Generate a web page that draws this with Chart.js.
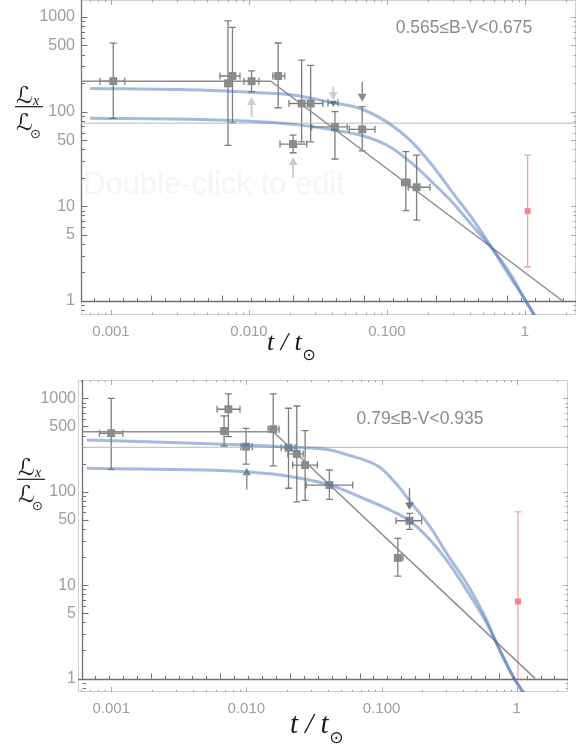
<!DOCTYPE html>
<html>
<head>
<meta charset="utf-8">
<script src="https://cdn.jsdelivr.net/npm/chart.js@4.4.1/dist/chart.umd.min.js"></script>
<style>
  body { margin: 0; background: #fff; width: 577px; height: 749px; overflow: hidden; position: relative; }
  canvas { position: absolute; left: 0; }
  #top { top: 0; }
  #bottom { top: 370px; }
</style>
</head>
<body>
<canvas id="top" width="577" height="370"></canvas>
<canvas id="bottom" width="577" height="379"></canvas>
<script>
// tick labels (both panels)
const xLabelVals = [0.001, 0.01, 0.1, 1];
const xLabelText = ['0.001', '0.010', '0.100', '1'];
const yLabelVals = [1, 5, 10, 50, 100, 500, 1000];
const yLabelText = ['1', '5', '10', '50', '100', '500', '1000'];

// ---- upper panel: 0.565 <= B-V < 0.675 ----
const topRange = '0.565≤B-V<0.675';
const topT   = [0.00104, 0.00705, 0.0076, 0.01045, 0.0163, 0.0209, 0.0241, 0.028, 0.042, 0.0662, 0.137, 0.164];
const topL   = [210, 199, 238, 210, 238, 45.5, 122, 122, 69, 65, 17.9, 15.9];
const topLlo = [85, 44, 76, 162, 110, 36.8, 48, 48, 31.6, 38.6, 9.0, 7.15];
const topLhi = [530, 912, 778, 270, 531, 56.5, 351, 308, 100, 113, 37.8, 34.8];
const topTlo = [0.000832, 0.00705, 0.00616, 0.0092, 0.0149, 0.0168, 0.0195, 0.0234, 0.0285, 0.0533, 0.128, 0.1426];
const topThi = [0.00126, 0.00705, 0.00861, 0.0118, 0.0182, 0.0262, 0.0286, 0.0344, 0.0515, 0.0819, 0.147, 0.205];
// upper limit marker
const topLimT = [0.0408], topLimL = [124], topLimTlo = [0.0374], topLimThi = [0.0442];
// limit arrows (t, from L, to L)
const topArrowT    = [0.01045, 0.0209, 0.0408, 0.0662];
const topArrowFrom = [87.7, 19.9, 183, 207];
const topArrowTo   = [142.6, 33.2, 132.5, 127];
// the Sun
const topSunT = [1.046], topSunL = [8.9], topSunLlo = [2.3], topSunLhi = [34.8];
// fits
const topBrokenT = [0.000607, 0.0144, 1.88];
const topBrokenL = [210, 210, 1];
const topFlatT = [0.000607, 2.4];
const topFlatL = [75.6, 75.6];
const topBlueT   = [0.000705, 0.00442, 0.012, 0.021, 0.0408, 0.0637, 0.0995, 0.147, 0.217, 0.302, 0.422, 0.589, 0.778, 0.972, 1.149, 1.29];
const topBlueHiL = [176, 169, 158, 150, 124, 108, 78, 50, 26.2, 13.7, 7.2, 3.46, 1.81, 1.11, 0.74, 0.56];
const topBlueLoL = [85, 82.6, 78.2, 73.4, 64, 56.6, 44.4, 29.6, 17.5, 10.8, 6.1, 3.46, 1.96, 1.11, 0.74, 0.56];

// ---- lower panel: 0.79 <= B-V < 0.935 ----
const botRange = '0.79≤B-V<0.935';
const botT   = [0.001, 0.00684, 0.00736, 0.00995, 0.0158, 0.0205, 0.0236, 0.0272, 0.0411, 0.161, 0.132];
const botL   = [423, 447, 764, 304, 467, 296, 254, 193, 118, 48.9, 19.6];
const botLlo = [174, 309, 389, 198, 189, 109, 78, 81, 83, 39.5, 12.5];
const botLhi = [1000, 648, 1114, 478, 1114, 783, 828, 451, 171, 58.7, 31.7];
const botTlo = [0.000818, 0.00684, 0.00607, 0.0091, 0.0145, 0.0181, 0.0203, 0.022, 0.0277, 0.128, 0.126];
const botThi = [0.00122, 0.00684, 0.00897, 0.01107, 0.01745, 0.0229, 0.0263, 0.0335, 0.0612, 0.198, 0.144];
// lower limit (up triangle) and upper limit (down triangle) with stems
const botLowLimT = [0.01007], botLowLimL = [160], botLowLimStem = [106];
const botUpLimT  = [0.161],   botUpLimL  = [72],  botUpLimStem  = [109];
const botSunT = [1.02], botSunL = [6.7], botSunLlo = [1], botSunLhi = [61];
const botBrokenT = [0.000607, 0.0158, 1.37];
const botBrokenL = [440, 440, 1];
const botFlatT = [0.000607, 2.4];
const botFlatL = [299, 299];
const botBlueHiT = [0.00066, 0.01, 0.0178, 0.0416, 0.0553, 0.0975, 0.129, 0.167, 0.229, 0.303, 0.427, 0.6, 0.711, 0.944, 1.15];
const botBlueHiL = [358, 316, 304, 280, 250, 182, 121, 75, 42, 21.9, 10.4, 4.2, 2.37, 1.04, 0.69];
const botBlueLoT = [0.00066, 0.01, 0.0178, 0.0416, 0.0733, 0.1156, 0.161, 0.229, 0.303, 0.427, 0.6, 0.711, 0.944, 1.12];
const botBlueLoL = [178, 164, 151, 118, 85, 63.7, 48.9, 30.4, 18.5, 8.8, 3.9, 2.37, 1.04, 0.69];

const FONT = "'Liberation Sans', Arial, sans-serif";
const SERIF = "'Liberation Serif', 'DejaVu Serif', serif";
const SCRIPT = "'DejaVu Sans', 'DejaVu Serif', 'Noto Sans', serif";
const BLUE = 'rgba(70, 110, 182, 0.48)';
const GRAY = '#8b8b8b';
const LIGHT_ARROW = '#cdcdcd';
const DARK_ARROW = '#8a8a8a';

function near(list, v) { return list.findIndex(u => Math.abs(u - v) / u < 1e-6); }
function pts(T, L) { return T.map((t, i) => ({ x: t, y: L[i] })); }
function errPts(T, L, Tlo, Thi, Llo, Lhi) {
  return T.map((t, i) => ({ x: t, y: L[i], xMin: Tlo[i], xMax: Thi[i], yMin: Llo[i], yMax: Lhi[i] }));
}
function logTicks(lo, hi) {
  const out = [];
  for (let e = -4; e <= 3; e++) {
    for (let m = 1; m <= 9; m++) {
      const v = m * Math.pow(10, e);
      if (v >= lo && v <= hi) out.push(v);
    }
  }
  return out;
}

// frame, ticks and the two Mathematica-style axes
const framePlugin = {
  id: 'frame',
  beforeDatasetsDraw(chart, args, o) {
    const { ctx, chartArea: a, scales: { x, y } } = chart;
    ctx.save();
    ctx.lineWidth = 1;
    ctx.strokeStyle = '#d0d0d0';
    ctx.strokeRect(a.left + 0.5, a.top + 0.5, a.right - a.left - 1, a.bottom - a.top - 1);
    ctx.strokeStyle = '#aaaaaa';
    ctx.beginPath();
    x.ticks.forEach(t => {
      const px = Math.round(x.getPixelForValue(t.value)) + 0.5;
      const len = near(xLabelVals, t.value) >= 0 ? 5 : 2.5;
      ctx.moveTo(px, a.bottom); ctx.lineTo(px, a.bottom - len);
      ctx.moveTo(px, a.top); ctx.lineTo(px, a.top + len);
    });
    y.ticks.forEach(t => {
      const py = Math.round(y.getPixelForValue(t.value)) + 0.5;
      const len = near(yLabelVals, t.value) >= 0 ? 5 : 2.5;
      ctx.moveTo(a.right, py); ctx.lineTo(a.right - len, py);
    });
    ctx.stroke();

    const ax = Math.round(x.getPixelForValue(o.axisT)) + 0.5;
    const ay = Math.round(y.getPixelForValue(1)) + 0.5;
    ctx.strokeStyle = '#707070';
    ctx.lineWidth = 1.3;
    ctx.beginPath();
    ctx.moveTo(a.left, ay); ctx.lineTo(a.right, ay);
    ctx.moveTo(ax, a.top); ctx.lineTo(ax, ay);
    ctx.stroke();
    ctx.lineWidth = 1;
    ctx.beginPath();
    y.ticks.forEach(t => {
      const py = Math.round(y.getPixelForValue(t.value)) + 0.5;
      const len = near(yLabelVals, t.value) >= 0 ? 6 : 3.5;
      ctx.moveTo(ax, py); ctx.lineTo(ax + len, py);
    });
    for (let k = -40; k <= 8; k++) {
      const px = x.getPixelForValue(Math.pow(10, o.axisTickStart + o.axisTickStep * k));
      if (px <= ax + 1 || px > a.right) continue;
      const len = k % 5 === 0 ? 6 : 3.5;
      const rx = Math.round(px) + 0.5;
      ctx.moveTo(rx, ay); ctx.lineTo(rx, ay - len);
    }
    ctx.stroke();
    ctx.restore();
  }
};

// error bars with caps
const errorBarPlugin = {
  id: 'errorBars',
  beforeDatasetsDraw(chart) {
    const { ctx, scales: { x, y } } = chart;
    chart.data.datasets.forEach(ds => {
      if (!ds.errorBars) return;
      ctx.save();
      ctx.strokeStyle = ds.errorColor;
      ctx.lineWidth = 1.3;
      ctx.beginPath();
      ds.data.forEach(p => {
        const px = x.getPixelForValue(p.x), py = y.getPixelForValue(p.y);
        if (p.yMin !== p.yMax) {
          const y1 = y.getPixelForValue(p.yMin), y2 = y.getPixelForValue(p.yMax);
          ctx.moveTo(px, y1); ctx.lineTo(px, y2);
          ctx.moveTo(px - 3.5, y1); ctx.lineTo(px + 3.5, y1);
          ctx.moveTo(px - 3.5, y2); ctx.lineTo(px + 3.5, y2);
        }
        if (p.xMin !== p.xMax) {
          const x1 = x.getPixelForValue(p.xMin), x2 = x.getPixelForValue(p.xMax);
          ctx.moveTo(x1, py); ctx.lineTo(x2, py);
          ctx.moveTo(x1, py - 3.5); ctx.lineTo(x1, py + 3.5);
          ctx.moveTo(x2, py - 3.5); ctx.lineTo(x2, py + 3.5);
        }
      });
      ctx.stroke();
      ctx.restore();
    });
  }
};

// limit arrows and stems
const arrowPlugin = {
  id: 'arrows',
  beforeDatasetsDraw(chart, args, o) {
    const { ctx, scales: { x, y } } = chart;
    (o.list || []).forEach(a => {
      const px = x.getPixelForValue(a.t);
      const y1 = y.getPixelForValue(a.from), y2 = y.getPixelForValue(a.to);
      ctx.save();
      ctx.strokeStyle = a.color; ctx.fillStyle = a.color;
      ctx.lineWidth = a.width || 1.6;
      ctx.beginPath();
      const dir = y2 < y1 ? 1 : -1;
      ctx.moveTo(px, y1); ctx.lineTo(px, a.head ? y2 + dir * 6 : y2);
      ctx.stroke();
      if (a.head) {
        ctx.beginPath();
        ctx.moveTo(px, y2);
        ctx.lineTo(px - 4.5, y2 + dir * 8);
        ctx.lineTo(px + 4.5, y2 + dir * 8);
        ctx.closePath();
        ctx.fill();
      }
      ctx.restore();
    });
  }
};

// titles, annotation, watermark
const textPlugin = {
  id: 'texts',
  beforeDatasetsDraw(chart, args, o) {
    if (!o.watermark) return;
    const ctx = chart.ctx;
    ctx.save();
    ctx.font = `31px ${FONT}`;
    ctx.fillStyle = '#f5f5f5';
    ctx.textBaseline = 'middle';
    ctx.fillText(o.watermark.text, o.watermark.x, o.watermark.y);
    ctx.restore();
  },
  afterDraw(chart, args, o) {
    const ctx = chart.ctx;
    ctx.save();
    // annotation
    ctx.font = `17.5px ${FONT}`;
    ctx.fillStyle = '#8a8a8a';
    ctx.textAlign = 'center';
    ctx.textBaseline = 'middle';
    ctx.fillText(o.note.text, o.note.x, o.note.y);
    // y title: Lx / Lsun
    const { cx, cy } = o.yTitle;
    ctx.fillStyle = '#1a1a1a';
    ctx.textAlign = 'left';
    ctx.textBaseline = 'alphabetic';
    ctx.font = `italic 23px ${SCRIPT}`;
    ctx.fillText('ℒ', cx - 13, cy - 4);
    ctx.fillText('ℒ', cx - 13, cy + 23);
    ctx.font = `italic 14px ${SERIF}`;
    ctx.fillText('x', cx + 4, cy - 2);
    ctx.font = `13px ${SCRIPT}`;
    ctx.fillText('⊙', cx + 1, cy + 31);
    ctx.fillRect(cx - 14, cy - 0.6, 28, 1.2);
    // x title: t / t_sun
    const xt = o.xTitle;
    ctx.font = `italic ${xt.size}px ${SERIF}`;
    ctx.fillText('t / t', xt.x, xt.base);
    const w = ctx.measureText('t / t').width;
    ctx.font = `${Math.round(xt.size * 0.6)}px ${SCRIPT}`;
    ctx.fillText('⊙', xt.x + w + 0.5, xt.base + 10);
    ctx.restore();
  }
};

function drawPanel(id, p) {
  const xTicks = logTicks(p.xMin, p.xMax);
  const yTicks = logTicks(p.yMin, p.yMax);
  const datasets = [
    { data: pts(p.blueHiT, p.blueHiL), showLine: true, borderColor: BLUE, borderWidth: 3, pointRadius: 0, cubicInterpolationMode: 'monotone', order: 0 },
    { data: pts(p.blueLoT, p.blueLoL), showLine: true, borderColor: BLUE, borderWidth: 3, pointRadius: 0, cubicInterpolationMode: 'monotone', order: 0 },
    { data: errPts(p.sunT, p.sunL, p.sunT, p.sunT, p.sunLlo, p.sunLhi), pointStyle: 'rect', pointRadius: 4.3,
      backgroundColor: '#f4868f', borderWidth: 0, errorBars: true, errorColor: '#f7a2a9', order: 1 },
    { data: errPts(p.T, p.L, p.Tlo, p.Thi, p.Llo, p.Lhi), pointStyle: 'rect', pointRadius: 5.6,
      backgroundColor: GRAY, borderWidth: 0, errorBars: true, errorColor: '#7e7e7e', order: 2 },
    { data: pts(p.brokenT, p.brokenL), showLine: true, borderColor: '#8e8e8e', borderWidth: 1.5, pointRadius: 0, order: 5 },
    { data: pts(p.flatT, p.flatL), showLine: true, borderColor: '#b8b8b8', borderWidth: 1, pointRadius: 0, order: 6 }
  ].concat(p.extra);

  new Chart(document.getElementById(id), {
    type: 'scatter',
    data: { datasets },
    options: {
      responsive: false,
      animation: false,
      layout: { padding: p.padding, autoPadding: false },
      plugins: {
        legend: { display: false },
        tooltip: { enabled: false },
        frame: { axisT: 0.000607, axisTickStart: -0.133, axisTickStep: 0.103 },
        arrows: { list: p.arrows },
        texts: { note: p.note, yTitle: p.yTitle, xTitle: p.xTitle, watermark: p.watermark }
      },
      scales: {
        x: {
          type: 'logarithmic', min: p.xMin, max: p.xMax, bounds: 'data',
          afterBuildTicks: s => { s.ticks = xTicks.map(v => ({ value: v })); },
          afterFit: s => { s.height = p.xAxisH; s.paddingLeft = 0; s.paddingRight = 0; },
          grid: { display: false, drawTicks: false },
          border: { display: false },
          ticks: {
            autoSkip: false, maxRotation: 0, minRotation: 0, padding: 8,
            color: '#9d9d9d', font: { family: FONT, size: 15 },
            callback: v => { const i = near(xLabelVals, v); return i >= 0 ? xLabelText[i] : ''; }
          }
        },
        y: {
          type: 'logarithmic', min: p.yMin, max: p.yMax, bounds: 'data',
          afterBuildTicks: s => { s.ticks = yTicks.map(v => ({ value: v })); },
          afterFit: s => { s.width = p.yAxisW; s.paddingTop = 0; s.paddingBottom = 0; },
          grid: { display: false, drawTicks: false },
          border: { display: false },
          ticks: {
            autoSkip: false, padding: p.yPad,
            color: '#9d9d9d', font: { family: FONT, size: 16 },
            callback: v => { const i = near(yLabelVals, v); return i >= 0 ? yLabelText[i] : ''; }
          }
        }
      }
    },
    plugins: [framePlugin, textPlugin, errorBarPlugin, arrowPlugin]
  });
}

drawPanel('top', {
  xMin: 0.000607, xMax: 2.344, yMin: 0.711, yMax: 1512,
  padding: { top: 0, right: 1, left: 0, bottom: 0 }, xAxisH: 55, yAxisW: 81, yPad: 6,
  T: topT, L: topL, Llo: topLlo, Lhi: topLhi, Tlo: topTlo, Thi: topThi,
  sunT: topSunT, sunL: topSunL, sunLlo: topSunLlo, sunLhi: topSunLhi,
  brokenT: topBrokenT, brokenL: topBrokenL, flatT: topFlatT, flatL: topFlatL,
  blueHiT: topBlueT, blueHiL: topBlueHiL, blueLoT: topBlueT, blueLoL: topBlueLoL,
  extra: [
    { data: errPts(topLimT, topLimL, topLimTlo, topLimThi, topLimL, topLimL), pointStyle: 'triangle', pointRotation: 180,
      pointRadius: 4, backgroundColor: '#707070', borderWidth: 0, errorBars: true, errorColor: '#7e7e7e', order: 2 }
  ],
  arrows: topArrowT.map((t, i) => ({ t, from: topArrowFrom[i], to: topArrowTo[i], head: true,
    color: i === 3 ? DARK_ARROW : LIGHT_ARROW, width: i === 3 ? 1.4 : 2 })),
  note: { text: topRange, x: 464, y: 28.5 },
  yTitle: { cx: 29, cy: 106.7 },
  xTitle: { x: 267, base: 350, size: 26 },
  watermark: { text: 'Double-click to edit', x: 83, y: 185 }
});

drawPanel('bottom', {
  xMin: 0.000568, xMax: 2.395, yMin: 0.7186, yMax: 1571,
  padding: { top: 10, right: 9, left: 0, bottom: 0 }, xAxisH: 57, yAxisW: 78, yPad: 2,
  T: botT, L: botL, Llo: botLlo, Lhi: botLhi, Tlo: botTlo, Thi: botThi,
  sunT: botSunT, sunL: botSunL, sunLlo: botSunLlo, sunLhi: botSunLhi,
  brokenT: botBrokenT, brokenL: botBrokenL, flatT: botFlatT, flatL: botFlatL,
  blueHiT: botBlueHiT, blueHiL: botBlueHiL, blueLoT: botBlueLoT, blueLoL: botBlueLoL,
  extra: [
    { data: pts(botLowLimT, botLowLimL), pointStyle: 'triangle', pointRadius: 5, backgroundColor: '#8e8e8e', borderWidth: 0, order: 2 },
    { data: pts(botUpLimT, botUpLimL), pointStyle: 'triangle', pointRotation: 180, pointRadius: 5, backgroundColor: '#7a7a7a', borderWidth: 0, order: 2 }
  ],
  arrows: [
    { t: botLowLimT[0], from: botLowLimL[0], to: botLowLimStem[0], head: false, color: '#8e8e8e', width: 1.4 },
    { t: botUpLimT[0], from: botUpLimL[0], to: botUpLimStem[0], head: false, color: '#7a7a7a', width: 1.4 }
  ],
  note: { text: botRange, x: 420, y: 49 },
  yTitle: { cx: 31, cy: 109.3 },
  xTitle: { x: 290, base: 363, size: 29 },
  watermark: null
});
</script>
</body>
</html>
